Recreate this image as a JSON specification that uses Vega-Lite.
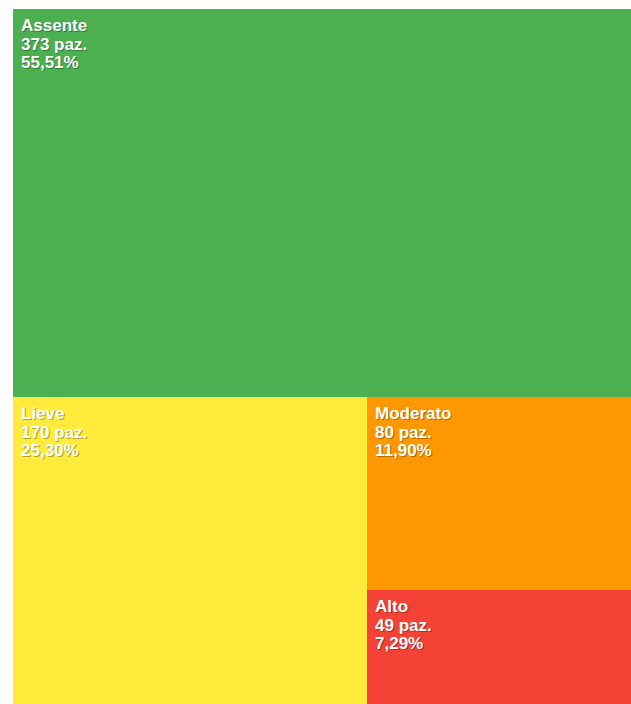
{
  "$schema": "https://vega.github.io/schema/vega-lite/v6.json",
  "padding": {"left": 13, "top": 9, "right": 0, "bottom": 0},
  "background": "white",
  "config": {"view": {"stroke": null}, "concat": {"spacing": 0}, "font": "Liberation Sans"},
  "data": {"values": [
    {"cat": "Assente", "n": 373, "pct": "55,51%"},
    {"cat": "Lieve", "n": 170, "pct": "25,30%"},
    {"cat": "Moderato", "n": 80, "pct": "11,90%"},
    {"cat": "Alto", "n": 49, "pct": "7,29%"}
  ]},
  "spacing": 0,
  "vconcat": [
    {
      "width": 618, "height": 388,
      "transform": [{"filter": "datum.cat === 'Assente'"}, {"calculate": "datum.cat + '\\n' + datum.n + ' paz.\\n' + datum.pct", "as": "label"}],
      "layer": [
        {"mark": {"type": "rect"}, "encoding": {"color": {"field": "cat", "type": "nominal", "legend": null, "scale": {"domain": ["Assente", "Lieve", "Moderato", "Alto"], "range": ["#4CAF50", "#FFEB3B", "#FF9800", "#F44336"]}}}},
        {"mark": {"type": "text", "align": "left", "baseline": "alphabetic", "dx": 9, "dy": 23, "fontSize": 17, "fontWeight": "bold", "lineHeight": 18.5, "lineBreak": "\n", "color": "black", "opacity": 0.3}, "encoding": {"x": {"value": 0}, "y": {"value": 0}, "text": {"field": "label"}}},
        {"mark": {"type": "text", "align": "left", "baseline": "alphabetic", "dx": 8, "dy": 22, "fontSize": 17, "fontWeight": "bold", "lineHeight": 18.5, "lineBreak": "\n", "color": "white"}, "encoding": {"x": {"value": 0}, "y": {"value": 0}, "text": {"field": "label"}}}
      ]
    },
    {
      "spacing": 0,
      "hconcat": [
        {
          "width": 354, "height": 307,
          "transform": [{"filter": "datum.cat === 'Lieve'"}, {"calculate": "datum.cat + '\\n' + datum.n + ' paz.\\n' + datum.pct", "as": "label"}],
          "layer": [
            {"mark": {"type": "rect"}, "encoding": {"color": {"field": "cat", "type": "nominal", "legend": null, "scale": {"domain": ["Assente", "Lieve", "Moderato", "Alto"], "range": ["#4CAF50", "#FFEB3B", "#FF9800", "#F44336"]}}}},
            {"mark": {"type": "text", "align": "left", "baseline": "alphabetic", "dx": 9, "dy": 23, "fontSize": 17, "fontWeight": "bold", "lineHeight": 18.5, "lineBreak": "\n", "color": "black", "opacity": 0.3}, "encoding": {"x": {"value": 0}, "y": {"value": 0}, "text": {"field": "label"}}},
            {"mark": {"type": "text", "align": "left", "baseline": "alphabetic", "dx": 8, "dy": 22, "fontSize": 17, "fontWeight": "bold", "lineHeight": 18.5, "lineBreak": "\n", "color": "white"}, "encoding": {"x": {"value": 0}, "y": {"value": 0}, "text": {"field": "label"}}}
          ]
        },
        {
          "spacing": 0,
          "vconcat": [
            {
              "width": 264, "height": 193,
              "transform": [{"filter": "datum.cat === 'Moderato'"}, {"calculate": "datum.cat + '\\n' + datum.n + ' paz.\\n' + datum.pct", "as": "label"}],
              "layer": [
                {"mark": {"type": "rect"}, "encoding": {"color": {"field": "cat", "type": "nominal", "legend": null, "scale": {"domain": ["Assente", "Lieve", "Moderato", "Alto"], "range": ["#4CAF50", "#FFEB3B", "#FF9800", "#F44336"]}}}},
                {"mark": {"type": "text", "align": "left", "baseline": "alphabetic", "dx": 9, "dy": 23, "fontSize": 17, "fontWeight": "bold", "lineHeight": 18.5, "lineBreak": "\n", "color": "black", "opacity": 0.3}, "encoding": {"x": {"value": 0}, "y": {"value": 0}, "text": {"field": "label"}}},
                {"mark": {"type": "text", "align": "left", "baseline": "alphabetic", "dx": 8, "dy": 22, "fontSize": 17, "fontWeight": "bold", "lineHeight": 18.5, "lineBreak": "\n", "color": "white"}, "encoding": {"x": {"value": 0}, "y": {"value": 0}, "text": {"field": "label"}}}
              ]
            },
            {
              "width": 264, "height": 114,
              "transform": [{"filter": "datum.cat === 'Alto'"}, {"calculate": "datum.cat + '\\n' + datum.n + ' paz.\\n' + datum.pct", "as": "label"}],
              "layer": [
                {"mark": {"type": "rect"}, "encoding": {"color": {"field": "cat", "type": "nominal", "legend": null, "scale": {"domain": ["Assente", "Lieve", "Moderato", "Alto"], "range": ["#4CAF50", "#FFEB3B", "#FF9800", "#F44336"]}}}},
                {"mark": {"type": "text", "align": "left", "baseline": "alphabetic", "dx": 9, "dy": 23, "fontSize": 17, "fontWeight": "bold", "lineHeight": 18.5, "lineBreak": "\n", "color": "black", "opacity": 0.3}, "encoding": {"x": {"value": 0}, "y": {"value": 0}, "text": {"field": "label"}}},
                {"mark": {"type": "text", "align": "left", "baseline": "alphabetic", "dx": 8, "dy": 22, "fontSize": 17, "fontWeight": "bold", "lineHeight": 18.5, "lineBreak": "\n", "color": "white"}, "encoding": {"x": {"value": 0}, "y": {"value": 0}, "text": {"field": "label"}}}
              ]
            }
          ]
        }
      ]
    }
  ]
}
